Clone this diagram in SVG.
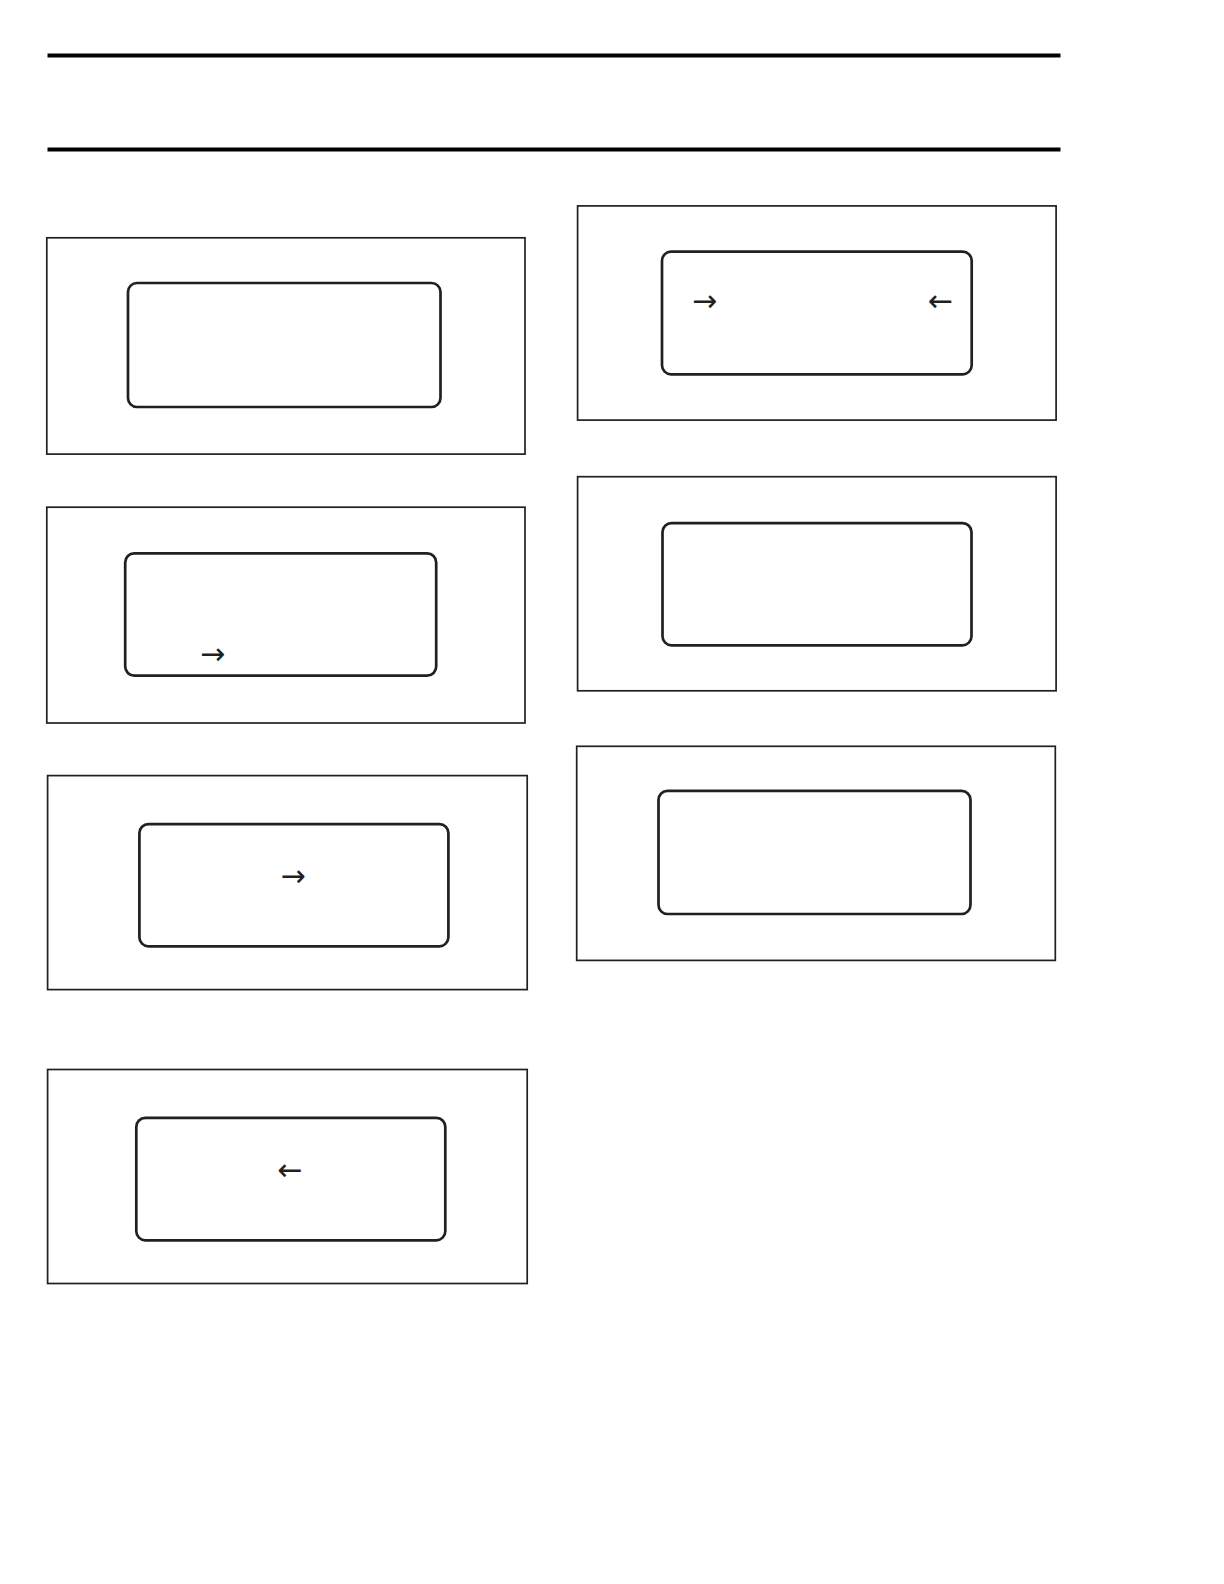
<svg xmlns="http://www.w3.org/2000/svg" width="1224" height="1584" viewBox="0 0 1224 1584">
<style>
.rule{stroke:#000;stroke-width:4;fill:none}
.outer{fill:#fff;stroke:#231f20;stroke-width:1.7}
.inner{fill:#fff;stroke:#231f20;stroke-width:2.7}
.arr{font-family:"DejaVu Sans",sans-serif;font-size:30px;fill:#231f20;text-anchor:middle}
</style>
<rect x="0" y="0" width="1224" height="1584" fill="#fff"/>
<g id="rules">
<line class="rule" x1="47.5" y1="55.5" x2="1060.5" y2="55.5"/>
<line class="rule" x1="47.5" y1="149.5" x2="1060.5" y2="149.5"/>
</g>
<g id="panel1">
<rect class="outer" x="46.8" y="237.8" width="478.2" height="216.3"/>
<rect class="inner" x="128" y="283" width="312.5" height="124" rx="9"/>
</g>
<g id="panel2">
<rect class="outer" x="46.8" y="507.2" width="478.2" height="215.8"/>
<rect class="inner" x="125.2" y="553.4" width="311" height="122.2" rx="9"/>
<text class="arr" x="212.5" y="663.5">→</text>
</g>
<g id="panel3">
<rect class="outer" x="47.6" y="775.6" width="479.6" height="214"/>
<rect class="inner" x="139.4" y="824.1" width="309" height="122.2" rx="9"/>
<text class="arr" x="293" y="885.5">→</text>
</g>
<g id="panel4">
<rect class="outer" x="47.6" y="1069.5" width="479.6" height="214"/>
<rect class="inner" x="136.3" y="1117.9" width="309" height="122.4" rx="9"/>
<text class="arr" x="290" y="1179.5">←</text>
</g>
<g id="panel5">
<rect class="outer" x="577.6" y="205.9" width="478.5" height="214.2"/>
<rect class="inner" x="662" y="251.7" width="309.7" height="122.6" rx="9"/>
<text class="arr" x="704.5" y="311">→</text>
<text class="arr" x="940.5" y="311">←</text>
</g>
<g id="panel6">
<rect class="outer" x="577.6" y="476.7" width="478.5" height="214.1"/>
<rect class="inner" x="662.5" y="523.1" width="309" height="122.2" rx="9"/>
</g>
<g id="panel7">
<rect class="outer" x="576.7" y="746.3" width="478.6" height="214.1"/>
<rect class="inner" x="658.5" y="790.8" width="312" height="123.2" rx="9"/>
</g>
<g id="connectors"></g>
</svg>
